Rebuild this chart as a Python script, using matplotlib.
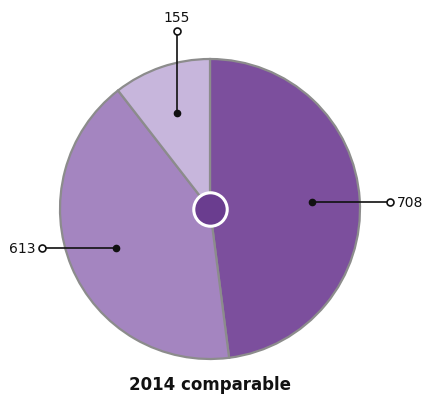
import numpy as np
import matplotlib
matplotlib.use("Agg")
import matplotlib.pyplot as plt

plt.rcParams["font.family"] = ["DejaVu Sans"]

# slice values, drawn clockwise from 12 o'clock
values = [708, 613, 155]
labels = ["708", "613", "155"]
colors = ["#7c4f9d", "#a485c0", "#c7b6dc"]
hub_color = "#6a3d8f"
title = "2014 comparable"

W, H = 424, 406
fig = plt.figure(figsize=(W / 100, H / 100), dpi=100)
ax = fig.add_axes([0, 0, 1, 1])

cx, cy, R = 210, 196, 150
wedges, _ = ax.pie(values, colors=colors, startangle=90, counterclock=False,
                   center=(cx, cy), radius=R, frame=True,
                   wedgeprops=dict(edgecolor="#8c8c8c", linewidth=1.6))
ax.set_xlim(0, W)
ax.set_ylim(0, H)
ax.set_aspect("equal")
ax.axis("off")

# leader lines: dot inside the wedge, open circle at the end, value beside it
ends = [("h", 390), ("h", 42), ("v", H - 32)]
for w, lab, (kind, pos) in zip(wedges, labels, ends):
    mid = np.deg2rad((w.theta1 + w.theta2) / 2)
    px = cx + 0.68 * R * np.cos(mid)
    py = cy + 0.68 * R * np.sin(mid)
    if kind == "h":
        ex, ey = pos, py
    else:
        ex, ey = px, pos
    ax.plot([px, ex], [py, ey], color="#111111", lw=1.2, zorder=5)
    ax.plot(px, py, "o", color="#111111", ms=4.5, zorder=6)
    ax.plot(ex, ey, "o", mfc="white", mec="#111111", mew=1.2, ms=5, zorder=6)
    if kind == "h" and ex > cx:
        ax.text(ex + 7, ey, lab, ha="left", va="center", fontsize=10, color="#111111")
    elif kind == "h":
        ax.text(ex - 7, ey, lab, ha="right", va="center", fontsize=10, color="#111111")
    else:
        ax.text(ex, ey + 7, lab, ha="center", va="bottom", fontsize=10, color="#111111")

# hub in the middle: purple disc with a white ring
ax.scatter([cx], [cy], s=580, marker="o", c=hub_color, edgecolors="white",
           linewidths=2.2, zorder=10)

ax.text(cx, H - 385, title, ha="center", va="center", fontsize=12,
        fontweight="bold", color="#111111")

fig.savefig("out.png", dpi=100)
